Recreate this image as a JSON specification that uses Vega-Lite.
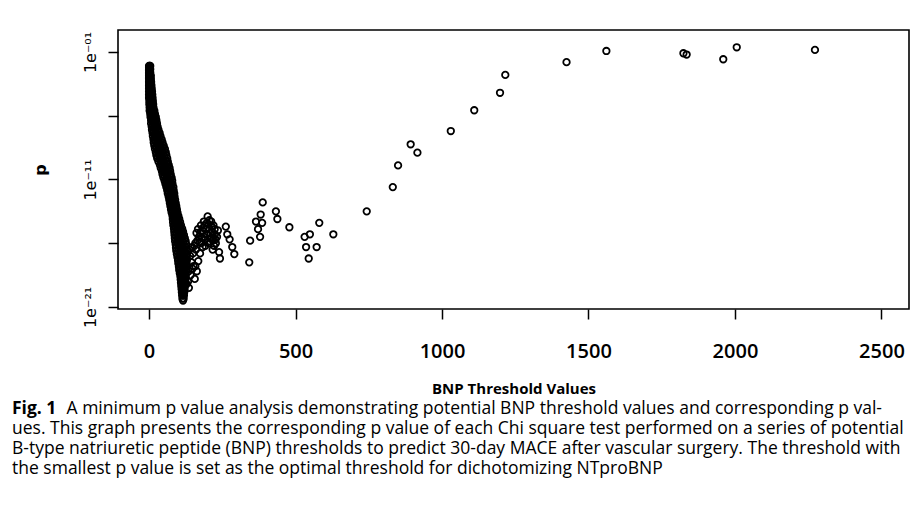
{
  "$schema": "https://vega.github.io/schema/vega-lite/v6.json",
  "width": 791,
  "height": 279,
  "autosize": {"type": "none"},
  "padding": {"left": 118, "top": 30, "right": 14, "bottom": 199},
  "background": "white",
  "title": {
    "text": "Fig. 1",
    "subtitle": [
      "\u200b\u00a0\u00a0\u00a0\u00a0\u00a0\u00a0\u00a0\u00a0\u00a0\u00a0\u00a0\u00a0A minimum p value analysis demonstrating potential BNP threshold values and corresponding p val-",
      "ues. This graph presents the corresponding p value of each Chi square test performed on a series of potential",
      "B-type natriuretic peptide (BNP) thresholds to predict 30-day MACE after vascular surgery. The threshold with",
      "the smallest p value is set as the optimal threshold for dichotomizing NTproBNP"
    ],
    "orient": "bottom",
    "anchor": "start",
    "frame": "group",
    "align": "left",
    "dx": -106,
    "offset": 4,
    "font": "Open Sans",
    "fontSize": 17.5,
    "fontWeight": "bold",
    "color": "black",
    "subtitleFont": "Open Sans",
    "subtitleFontSize": 17.5,
    "subtitleColor": "black",
    "subtitleLineHeight": 20,
    "subtitlePadding": -17.5
  },
  "data": {
    "values": [
      {"bnp":0,"p":7.94e-3},{"bnp":2,"p":7.94e-3},{"bnp":4,"p":7.94e-3},
      {"bnp":0,"p":5.96e-3},{"bnp":3,"p":5.96e-3},
      {"bnp":0,"p":4.47e-3},{"bnp":1,"p":4.47e-3},{"bnp":4,"p":4.47e-3},
      {"bnp":0,"p":3.35e-3},{"bnp":3,"p":3.35e-3},
      {"bnp":0,"p":2.51e-3},{"bnp":2,"p":2.51e-3},{"bnp":4,"p":2.51e-3},
      {"bnp":0,"p":1.88e-3},{"bnp":3,"p":1.88e-3},
      {"bnp":0,"p":1.41e-3},{"bnp":2,"p":1.41e-3},{"bnp":6,"p":1.41e-3},
      {"bnp":0,"p":1.06e-3},{"bnp":4,"p":1.06e-3},
      {"bnp":0,"p":7.94e-4},{"bnp":3,"p":7.94e-4},{"bnp":6,"p":7.94e-4},
      {"bnp":1,"p":5.96e-4},{"bnp":5,"p":5.96e-4},
      {"bnp":0,"p":4.47e-4},{"bnp":3,"p":4.47e-4},{"bnp":7,"p":4.47e-4},
      {"bnp":1,"p":3.35e-4},{"bnp":5,"p":3.35e-4},
      {"bnp":0,"p":2.51e-4},{"bnp":4,"p":2.51e-4},{"bnp":8,"p":2.51e-4},
      {"bnp":1,"p":1.88e-4},{"bnp":6,"p":1.88e-4},
      {"bnp":0,"p":1.41e-4},{"bnp":4,"p":1.41e-4},{"bnp":9,"p":1.41e-4},
      {"bnp":2,"p":1.06e-4},{"bnp":7,"p":1.06e-4},
      {"bnp":0,"p":7.94e-5},{"bnp":5,"p":7.94e-5},{"bnp":10,"p":7.94e-5},
      {"bnp":2,"p":5.96e-5},{"bnp":7,"p":5.96e-5},
      {"bnp":0,"p":4.47e-5},{"bnp":5,"p":4.47e-5},{"bnp":11,"p":4.47e-5},
      {"bnp":2,"p":3.35e-5},{"bnp":8,"p":3.35e-5},
      {"bnp":0,"p":2.51e-5},{"bnp":6,"p":2.51e-5},{"bnp":12,"p":2.51e-5},
      {"bnp":3,"p":1.88e-5},{"bnp":9,"p":1.88e-5},
      {"bnp":1,"p":1.41e-5},{"bnp":7,"p":1.41e-5},{"bnp":13,"p":1.41e-5},
      {"bnp":3,"p":1.06e-5},{"bnp":10,"p":1.06e-5},
      {"bnp":1,"p":7.94e-6},{"bnp":7,"p":7.94e-6},{"bnp":14,"p":7.94e-6},
      {"bnp":4,"p":5.96e-6},{"bnp":11,"p":5.96e-6},
      {"bnp":2,"p":4.47e-6},{"bnp":9,"p":4.47e-6},{"bnp":15,"p":4.47e-6},
      {"bnp":5,"p":3.35e-6},{"bnp":13,"p":3.35e-6},
      {"bnp":2,"p":2.51e-6},{"bnp":10,"p":2.51e-6},{"bnp":18,"p":2.51e-6},
      {"bnp":7,"p":1.88e-6},{"bnp":15,"p":1.88e-6},
      {"bnp":4,"p":1.41e-6},{"bnp":12,"p":1.41e-6},{"bnp":20,"p":1.41e-6},
      {"bnp":9,"p":1.06e-6},{"bnp":17,"p":1.06e-6},
      {"bnp":5,"p":7.94e-7},{"bnp":14,"p":7.94e-7},{"bnp":23,"p":7.94e-7},
      {"bnp":10,"p":5.96e-7},{"bnp":19,"p":5.96e-7},
      {"bnp":7,"p":4.47e-7},{"bnp":16,"p":4.47e-7},{"bnp":25,"p":4.47e-7},
      {"bnp":12,"p":3.35e-7},{"bnp":21,"p":3.35e-7},
      {"bnp":7,"p":2.51e-7},{"bnp":17,"p":2.51e-7},{"bnp":27,"p":2.51e-7},
      {"bnp":13,"p":1.88e-7},{"bnp":23,"p":1.88e-7},
      {"bnp":9,"p":1.41e-7},{"bnp":19,"p":1.41e-7},{"bnp":29,"p":1.41e-7},
      {"bnp":15,"p":1.06e-7},{"bnp":25,"p":1.06e-7},
      {"bnp":10,"p":7.94e-8},{"bnp":21,"p":7.94e-8},{"bnp":32,"p":7.94e-8},
      {"bnp":17,"p":5.96e-8},{"bnp":28,"p":5.96e-8},
      {"bnp":12,"p":4.47e-8},{"bnp":24,"p":4.47e-8},{"bnp":36,"p":4.47e-8},
      {"bnp":19,"p":3.35e-8},{"bnp":31,"p":3.35e-8},
      {"bnp":13,"p":2.51e-8},{"bnp":26,"p":2.51e-8},{"bnp":39,"p":2.51e-8},
      {"bnp":21,"p":1.88e-8},{"bnp":34,"p":1.88e-8},
      {"bnp":15,"p":1.41e-8},{"bnp":29,"p":1.41e-8},{"bnp":43,"p":1.41e-8},
      {"bnp":23,"p":1.06e-8},{"bnp":37,"p":1.06e-8},
      {"bnp":16,"p":7.94e-9},{"bnp":31,"p":7.94e-9},{"bnp":46,"p":7.94e-9},
      {"bnp":25,"p":5.96e-9},{"bnp":40,"p":5.96e-9},
      {"bnp":18,"p":4.47e-9},{"bnp":34,"p":4.47e-9},{"bnp":50,"p":4.47e-9},
      {"bnp":27,"p":3.35e-9},{"bnp":44,"p":3.35e-9},
      {"bnp":20,"p":2.51e-9},{"bnp":37,"p":2.51e-9},{"bnp":54,"p":2.51e-9},
      {"bnp":30,"p":1.88e-9},{"bnp":47,"p":1.88e-9},
      {"bnp":23,"p":1.41e-9},{"bnp":40,"p":1.41e-9},{"bnp":57,"p":1.41e-9},
      {"bnp":32,"p":1.06e-9},{"bnp":50,"p":1.06e-9},
      {"bnp":25,"p":7.94e-10},{"bnp":42,"p":7.94e-10},{"bnp":59,"p":7.94e-10},
      {"bnp":35,"p":5.96e-10},{"bnp":52,"p":5.96e-10},
      {"bnp":28,"p":4.47e-10},{"bnp":45,"p":4.47e-10},{"bnp":62,"p":4.47e-10},
      {"bnp":38,"p":3.35e-10},{"bnp":55,"p":3.35e-10},
      {"bnp":32,"p":2.51e-10},{"bnp":48,"p":2.51e-10},{"bnp":64,"p":2.51e-10},
      {"bnp":42,"p":1.88e-10},{"bnp":58,"p":1.88e-10},
      {"bnp":37,"p":1.41e-10},{"bnp":52,"p":1.41e-10},{"bnp":67,"p":1.41e-10},
      {"bnp":46,"p":1.06e-10},{"bnp":61,"p":1.06e-10},
      {"bnp":40,"p":7.94e-11},{"bnp":55,"p":7.94e-11},{"bnp":70,"p":7.94e-11},
      {"bnp":49,"p":5.96e-11},{"bnp":64,"p":5.96e-11},
      {"bnp":44,"p":4.47e-11},{"bnp":58,"p":4.47e-11},{"bnp":72,"p":4.47e-11},
      {"bnp":52,"p":3.35e-11},{"bnp":66,"p":3.35e-11},
      {"bnp":46,"p":2.51e-11},{"bnp":60,"p":2.51e-11},{"bnp":74,"p":2.51e-11},
      {"bnp":54,"p":1.88e-11},{"bnp":69,"p":1.88e-11},
      {"bnp":49,"p":1.41e-11},{"bnp":63,"p":1.41e-11},{"bnp":77,"p":1.41e-11},
      {"bnp":58,"p":1.06e-11},{"bnp":71,"p":1.06e-11},
      {"bnp":53,"p":7.94e-12},{"bnp":66,"p":7.94e-12},{"bnp":79,"p":7.94e-12},
      {"bnp":61,"p":5.96e-12},{"bnp":73,"p":5.96e-12},
      {"bnp":56,"p":4.47e-12},{"bnp":68,"p":4.47e-12},{"bnp":80,"p":4.47e-12},
      {"bnp":63,"p":3.35e-12},{"bnp":76,"p":3.35e-12},
      {"bnp":59,"p":2.51e-12},{"bnp":71,"p":2.51e-12},{"bnp":83,"p":2.51e-12},
      {"bnp":66,"p":1.88e-12},{"bnp":78,"p":1.88e-12},
      {"bnp":62,"p":1.41e-12},{"bnp":73,"p":1.41e-12},{"bnp":84,"p":1.41e-12},
      {"bnp":68,"p":1.06e-12},{"bnp":80,"p":1.06e-12},
      {"bnp":64,"p":7.94e-13},{"bnp":75,"p":7.94e-13},{"bnp":86,"p":7.94e-13},
      {"bnp":71,"p":5.96e-13},{"bnp":81,"p":5.96e-13},
      {"bnp":67,"p":4.47e-13},{"bnp":77,"p":4.47e-13},{"bnp":87,"p":4.47e-13},
      {"bnp":73,"p":3.35e-13},{"bnp":83,"p":3.35e-13},
      {"bnp":69,"p":2.51e-13},{"bnp":79,"p":2.51e-13},{"bnp":89,"p":2.51e-13},
      {"bnp":75,"p":1.88e-13},{"bnp":85,"p":1.88e-13},
      {"bnp":71,"p":1.41e-13},{"bnp":81,"p":1.41e-13},{"bnp":91,"p":1.41e-13},
      {"bnp":77,"p":1.06e-13},{"bnp":87,"p":1.06e-13},
      {"bnp":73,"p":7.94e-14},{"bnp":83,"p":7.94e-14},{"bnp":93,"p":7.94e-14},
      {"bnp":79,"p":5.96e-14},{"bnp":89,"p":5.96e-14},
      {"bnp":75,"p":4.47e-14},{"bnp":85,"p":4.47e-14},{"bnp":95,"p":4.47e-14},
      {"bnp":81,"p":3.35e-14},{"bnp":91,"p":3.35e-14},
      {"bnp":77,"p":2.51e-14},{"bnp":87,"p":2.51e-14},{"bnp":97,"p":2.51e-14},
      {"bnp":83,"p":1.88e-14},{"bnp":94,"p":1.88e-14},
      {"bnp":80,"p":1.41e-14},{"bnp":90,"p":1.41e-14},{"bnp":100,"p":1.41e-14},
      {"bnp":86,"p":1.06e-14},{"bnp":96,"p":1.06e-14},
      {"bnp":81,"p":7.94e-15},{"bnp":92,"p":7.94e-15},{"bnp":103,"p":7.94e-15},
      {"bnp":87,"p":5.96e-15},{"bnp":99,"p":5.96e-15},
      {"bnp":82,"p":4.47e-15},{"bnp":94,"p":4.47e-15},{"bnp":106,"p":4.47e-15},
      {"bnp":89,"p":3.35e-15},{"bnp":101,"p":3.35e-15},
      {"bnp":83,"p":2.51e-15},{"bnp":96,"p":2.51e-15},{"bnp":109,"p":2.51e-15},
      {"bnp":91,"p":1.88e-15},{"bnp":104,"p":1.88e-15},
      {"bnp":85,"p":1.41e-15},{"bnp":99,"p":1.41e-15},{"bnp":113,"p":1.41e-15},
      {"bnp":93,"p":1.06e-15},{"bnp":107,"p":1.06e-15},
      {"bnp":86,"p":7.94e-16},{"bnp":101,"p":7.94e-16},{"bnp":116,"p":7.94e-16},
      {"bnp":94,"p":5.96e-16},{"bnp":110,"p":5.96e-16},
      {"bnp":87,"p":4.47e-16},{"bnp":103,"p":4.47e-16},{"bnp":119,"p":4.47e-16},
      {"bnp":96,"p":3.35e-16},{"bnp":112,"p":3.35e-16},
      {"bnp":88,"p":2.51e-16},{"bnp":105,"p":2.51e-16},{"bnp":122,"p":2.51e-16},
      {"bnp":97,"p":1.88e-16},{"bnp":115,"p":1.88e-16},
      {"bnp":89,"p":1.41e-16},{"bnp":107,"p":1.41e-16},{"bnp":125,"p":1.41e-16},
      {"bnp":99,"p":1.06e-16},{"bnp":117,"p":1.06e-16},
      {"bnp":91,"p":7.94e-17},{"bnp":109,"p":7.94e-17},{"bnp":127,"p":7.94e-17},
      {"bnp":100,"p":5.96e-17},{"bnp":119,"p":5.96e-17},
      {"bnp":92,"p":4.47e-17},{"bnp":110,"p":4.47e-17},{"bnp":128,"p":4.47e-17},
      {"bnp":101,"p":3.35e-17},{"bnp":120,"p":3.35e-17},
      {"bnp":93,"p":2.51e-17},{"bnp":111,"p":2.51e-17},{"bnp":129,"p":2.51e-17},
      {"bnp":103,"p":1.88e-17},{"bnp":120,"p":1.88e-17},
      {"bnp":95,"p":1.41e-17},{"bnp":112,"p":1.41e-17},{"bnp":129,"p":1.41e-17},
      {"bnp":104,"p":1.06e-17},{"bnp":121,"p":1.06e-17},
      {"bnp":97,"p":7.94e-18},{"bnp":113,"p":7.94e-18},{"bnp":129,"p":7.94e-18},
      {"bnp":106,"p":5.96e-18},{"bnp":121,"p":5.96e-18},
      {"bnp":99,"p":4.47e-18},{"bnp":114,"p":4.47e-18},{"bnp":129,"p":4.47e-18},
      {"bnp":107,"p":3.35e-18},{"bnp":121,"p":3.35e-18},
      {"bnp":100,"p":2.51e-18},{"bnp":114,"p":2.51e-18},{"bnp":128,"p":2.51e-18},
      {"bnp":108,"p":1.88e-18},{"bnp":121,"p":1.88e-18},
      {"bnp":102,"p":1.41e-18},{"bnp":115,"p":1.41e-18},{"bnp":128,"p":1.41e-18},
      {"bnp":109,"p":1.06e-18},{"bnp":121,"p":1.06e-18},
      {"bnp":103,"p":7.94e-19},{"bnp":115,"p":7.94e-19},{"bnp":127,"p":7.94e-19},
      {"bnp":110,"p":5.96e-19},{"bnp":120,"p":5.96e-19},
      {"bnp":105,"p":4.47e-19},{"bnp":115,"p":4.47e-19},{"bnp":125,"p":4.47e-19},
      {"bnp":111,"p":3.35e-19},{"bnp":120,"p":3.35e-19},
      {"bnp":107,"p":2.51e-19},{"bnp":116,"p":2.51e-19},{"bnp":125,"p":2.51e-19},
      {"bnp":112,"p":1.88e-19},{"bnp":120,"p":1.88e-19},
      {"bnp":108,"p":1.41e-19},{"bnp":116,"p":1.41e-19},{"bnp":124,"p":1.41e-19},
      {"bnp":112,"p":1.06e-19},{"bnp":120,"p":1.06e-19},
      {"bnp":109,"p":7.94e-20},{"bnp":116,"p":7.94e-20},{"bnp":123,"p":7.94e-20},
      {"bnp":113,"p":5.96e-20},{"bnp":119,"p":5.96e-20},
      {"bnp":110,"p":4.47e-20},{"bnp":116,"p":4.47e-20},{"bnp":122,"p":4.47e-20},
      {"bnp":113,"p":3.35e-20},{"bnp":119,"p":3.35e-20},
      {"bnp":111,"p":2.51e-20},{"bnp":116,"p":2.51e-20},{"bnp":121,"p":2.51e-20},
      {"bnp":114,"p":1.88e-20},{"bnp":118,"p":1.88e-20},
      {"bnp":112,"p":1.41e-20},{"bnp":116,"p":1.41e-20},{"bnp":120,"p":1.41e-20},
      {"bnp":115,"p":1.06e-20},{"bnp":117,"p":1.06e-20},
      {"bnp":113,"p":7.94e-21},{"bnp":116,"p":7.94e-21},{"bnp":119,"p":7.94e-21},
      {"bnp":114,"p":4.47e-21},{"bnp":118,"p":4.47e-21},
      {"bnp":116,"p":3.16e-21},
      {"bnp":125,"p":3.16e-19},{"bnp":130,"p":1.58e-18},{"bnp":135,"p":6.31e-19},{"bnp":128,"p":6.31e-20},
      {"bnp":140,"p":1e-17},{"bnp":145,"p":3.16e-18},{"bnp":150,"p":1.58e-17},{"bnp":155,"p":6.31e-17},
      {"bnp":160,"p":3.16e-17},{"bnp":163,"p":6.31e-19},{"bnp":168,"p":3.98e-18},{"bnp":165,"p":1.58e-16},
      {"bnp":170,"p":3.16e-16},{"bnp":175,"p":6.31e-16},{"bnp":178,"p":1e-16},{"bnp":182,"p":1e-15},
      {"bnp":185,"p":1.58e-15},{"bnp":188,"p":3.16e-16},{"bnp":190,"p":2.51e-15},{"bnp":195,"p":1.26e-15},
      {"bnp":198,"p":5.01e-16},{"bnp":200,"p":1.26e-14},{"bnp":203,"p":3.16e-15},{"bnp":207,"p":1.26e-15},
      {"bnp":210,"p":2.51e-16},{"bnp":212,"p":5.01e-15},{"bnp":215,"p":7.94e-16},{"bnp":218,"p":1.58e-16},
      {"bnp":220,"p":2.51e-15},{"bnp":222,"p":6.31e-17},{"bnp":225,"p":5.01e-16},{"bnp":228,"p":1e-16},
      {"bnp":232,"p":3.16e-16},{"bnp":235,"p":1e-15},{"bnp":239,"p":2e-17},{"bnp":242,"p":6.31e-18},
      {"bnp":262,"p":2e-15},{"bnp":267,"p":5.01e-16},{"bnp":275,"p":2e-16},{"bnp":284,"p":5.01e-17},
      {"bnp":291,"p":1.41e-17},{"bnp":174,"p":1.58e-17},{"bnp":133,"p":1e-19},{"bnp":120,"p":2.51e-20},
      {"bnp":122,"p":1e-18},{"bnp":138,"p":3.16e-17},{"bnp":148,"p":1e-18},{"bnp":158,"p":1.58e-18},
      {"bnp":192,"p":6.31e-17},{"bnp":205,"p":1e-16},
      {"bnp":158,"p":1e-16},{"bnp":162,"p":6.31e-16},{"bnp":167,"p":1.26e-15},{"bnp":172,"p":1.26e-16},
      {"bnp":177,"p":2.51e-15},{"bnp":180,"p":2.51e-16},{"bnp":183,"p":5.01e-17},{"bnp":187,"p":5.01e-15},
      {"bnp":193,"p":2e-16},{"bnp":197,"p":3.98e-15},{"bnp":201,"p":1.26e-16},{"bnp":206,"p":6.31e-15},
      {"bnp":209,"p":6.31e-16},{"bnp":214,"p":2e-15},{"bnp":217,"p":3.16e-17},{"bnp":221,"p":2.51e-16},
      {"bnp":224,"p":1.26e-15},{"bnp":227,"p":2e-16},
      {"bnp":126,"p":6.31e-18},{"bnp":132,"p":2.51e-17},{"bnp":136,"p":3.16e-20},{"bnp":142,"p":3.16e-19},
      {"bnp":147,"p":5.01e-17},{"bnp":152,"p":1.58e-18},{"bnp":156,"p":1.58e-19},
      {"bnp":388,"p":1.58e-13},{"bnp":381,"p":1.78e-14},{"bnp":365,"p":5.01e-15},{"bnp":386,"p":3.98e-15},
      {"bnp":372,"p":1.26e-15},{"bnp":379,"p":3.16e-16},{"bnp":345,"p":1.58e-16},{"bnp":342,"p":3.16e-18},
      {"bnp":433,"p":3.16e-14},{"bnp":438,"p":7.94e-15},{"bnp":479,"p":1.78e-15},{"bnp":531,"p":3.16e-16},
      {"bnp":549,"p":5.01e-16},{"bnp":536,"p":5.01e-17},{"bnp":572,"p":5.01e-17},{"bnp":545,"p":6.31e-18},
      {"bnp":581,"p":3.98e-15},{"bnp":629,"p":5.01e-16},{"bnp":743,"p":3.16e-14},{"bnp":832,"p":2.51e-12},
      {"bnp":850,"p":1.26e-10},{"bnp":893,"p":5.75e-9},{"bnp":916,"p":1.26e-9},{"bnp":1030,"p":6.31e-8},
      {"bnp":1110,"p":2.69e-6},{"bnp":1198,"p":6.31e-5},{"bnp":1216,"p":1.58e-3},{"bnp":1425,"p":1.58e-2},
      {"bnp":1561,"p":0.12},{"bnp":1824,"p":0.0794},{"bnp":1835,"p":0.0631},{"bnp":1960,"p":0.0269},
      {"bnp":2006,"p":0.234},{"bnp":2273,"p":0.145}
    ]
  },
  "mark": {"type": "point", "shape": "circle", "filled": false, "stroke": "black", "strokeWidth": 1.8, "size": 42, "opacity": 1},
  "encoding": {
    "x": {
      "field": "bnp", "type": "quantitative",
      "scale": {"domain": [-106, 2594], "nice": false, "zero": false},
      "axis": {
        "values": [0, 500, 1000, 1500, 2000, 2500],
        "format": "d",
        "title": "BNP Threshold Values",
        "titleFont": "Open Sans", "titleFontSize": 15, "titleFontWeight": "bold", "titlePadding": 20,
        "labelFont": "Open Sans", "labelFontSize": 20, "labelFontWeight": 600, "labelPadding": 22,
        "tickSize": 10, "tickWidth": 1.5, "tickColor": "black", "labelColor": "black", "titleColor": "black",
        "domain": false, "grid": false, "labelFlush": false
      }
    },
    "y": {
      "field": "p", "type": "quantitative",
      "scale": {"type": "log", "domain": [6.9e-22, 5.3], "nice": false, "zero": false},
      "axis": {
        "values": [0.1, 1e-6, 1e-11, 1e-16, 1e-21],
        "labelExpr": "datum.value > 0.01 ? '1e⁻⁰¹' : (datum.value > 1e-12 && datum.value < 1e-10) ? '1e⁻¹¹' : datum.value < 1e-20 ? '1e⁻²¹' : ''",
        "labelAngle": -90, "labelAlign": "center", "labelBaseline": "bottom",
        "labelFont": "DejaVu Sans", "labelFontSize": 16, "labelPadding": 10,
        "title": "p", "titleFont": "DejaVu Sans", "titleFontSize": 16, "titleFontWeight": "bold", "titlePadding": 34,
        "tickSize": 10, "tickWidth": 1.5, "tickColor": "black", "labelColor": "black", "titleColor": "black",
        "domain": false, "grid": false, "labelFlush": false, "labelOverlap": false
      }
    }
  },
  "config": {"view": {"stroke": "black", "strokeWidth": 1.6}}
}
